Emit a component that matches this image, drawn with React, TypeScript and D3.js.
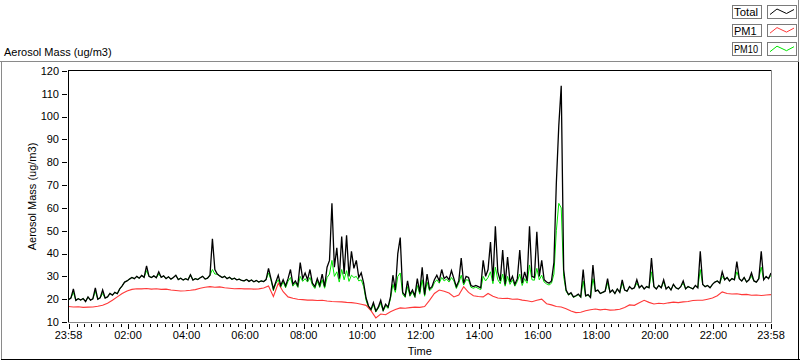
import React from 'react';
import * as d3 from 'd3';

// Minutes after the 23:58 start; Total and PM10 sampled every 5 min, PM1 every 10 min
const TOTAL_STEP_MIN = 5;
const PM10_STEP_MIN = 5;
const PM1_STEP_MIN = 10;

const TOTAL = [
  19.8, 20.5, 24.5, 19.5, 20.2, 19.6, 20.3, 19.0, 21.0, 19.6, 20.2, 25.0,
  20.0, 20.6, 24.0, 20.5, 21.0, 22.5, 21.8, 23.0, 22.4, 24.5, 25.8, 27.5,
  28.0, 28.8, 29.5, 29.0, 30.0, 29.2, 30.4, 29.6, 34.6, 30.0, 29.5, 30.2,
  29.4, 32.0, 29.6, 30.2, 29.0, 29.8, 28.8, 29.5, 30.5, 28.6, 29.2, 28.4,
  29.0, 28.5, 30.7, 28.4, 29.0, 28.6, 29.4, 30.0, 28.8, 29.2, 30.5, 46.5,
  33.0, 31.0, 30.2, 29.5, 30.0, 29.0, 29.6, 28.7, 29.2, 28.5, 28.8, 28.2,
  28.0, 28.6, 27.8, 28.4, 27.6, 28.2, 27.5, 28.0, 27.7, 28.6, 33.5, 29.0,
  24.5, 27.5, 30.5, 26.0, 28.5, 25.8, 29.0, 33.0, 26.5, 28.0, 26.0, 36.0,
  29.0, 31.5, 28.5, 33.0, 27.0, 25.5, 29.0, 26.0, 31.0, 25.5, 34.0, 37.0,
  62.0, 34.0, 42.5, 29.0, 47.5, 31.0, 48.0, 30.0, 41.0, 33.5, 37.0, 29.5,
  31.5, 27.0, 20.5, 17.0, 15.5, 18.5, 14.8, 16.5, 19.5, 15.2, 17.8, 16.5,
  21.0, 30.5, 24.0, 40.0, 47.0, 23.0, 21.5, 28.0, 22.0, 24.0, 21.5, 29.0,
  23.0, 34.0, 22.0, 31.0, 24.5, 25.5, 28.5, 30.5, 28.0, 33.0, 29.0, 30.0,
  28.5, 32.5, 29.0, 25.5, 28.0, 38.0, 27.0, 30.0, 29.5, 26.0, 25.5, 26.0,
  25.5, 25.0, 37.0, 30.0, 33.0, 45.0, 28.0, 52.0, 32.0, 28.0, 41.5, 26.5,
  38.5, 27.5, 30.0, 26.5, 29.0, 41.5, 27.0, 32.0, 28.0, 52.0, 30.0, 29.5,
  49.5, 30.0, 37.0, 28.5, 27.5, 27.0, 28.0, 36.0, 71.0, 96.0, 113.5, 33.0,
  24.0, 22.0, 22.8, 21.0, 21.5, 22.2, 21.0, 33.0, 21.5, 22.0, 20.8, 35.0,
  23.5, 24.0, 22.5, 23.0, 23.5, 29.0, 23.0, 24.0, 22.5, 24.5, 23.0, 28.5,
  24.0, 23.5, 25.5, 24.5, 25.0, 28.5, 25.0, 26.0, 24.5, 25.5, 25.0, 38.0,
  25.5, 24.5, 26.0, 25.0, 28.5, 24.5, 25.5, 24.0, 26.5, 25.0, 24.5, 25.5,
  28.0, 24.5, 25.5, 25.0, 24.5, 26.0, 25.0, 41.0, 26.5, 25.5, 26.0, 25.0,
  26.5, 27.5, 28.0, 27.0, 32.0, 28.5, 29.5, 28.0, 29.0, 28.5, 36.5, 29.0,
  28.0, 29.5, 27.5, 28.5, 31.5, 28.0, 27.5, 29.0, 41.0, 28.5, 30.0, 29.0,
  31.5,
];

const PM10 = [
  19.8, 20.5, 23.0, 19.5, 20.2, 19.6, 20.3, 19.0, 21.0, 19.6, 20.2, 23.5,
  20.0, 20.6, 22.5, 20.5, 21.0, 22.5, 21.8, 23.0, 22.4, 24.5, 25.8, 27.5,
  28.0, 28.8, 29.5, 29.0, 30.0, 29.2, 30.4, 29.6, 32.5, 30.0, 29.5, 30.2,
  29.4, 31.0, 29.6, 30.2, 29.0, 29.8, 28.8, 29.5, 30.5, 28.6, 29.2, 28.4,
  29.0, 28.5, 30.7, 28.4, 29.0, 28.6, 29.4, 30.0, 28.8, 29.2, 30.5, 33.0,
  31.0, 31.0, 30.2, 29.5, 30.0, 29.0, 29.6, 28.7, 29.2, 28.5, 28.8, 28.2,
  28.0, 28.6, 27.8, 28.4, 27.6, 28.2, 27.5, 28.0, 27.7, 28.6, 31.5, 28.5,
  23.8, 26.8, 28.5, 25.2, 27.6, 25.0, 27.8, 29.5, 25.7, 27.2, 25.2, 30.0,
  27.8, 29.0, 27.5, 29.5, 26.2, 24.7, 27.8, 25.2, 28.5, 24.8, 29.5, 31.0,
  37.0, 30.0, 32.0, 27.5, 33.0, 28.5, 32.5, 27.8, 30.5, 29.5, 30.0, 28.0,
  28.5, 25.5, 19.5, 16.4, 15.0, 17.6, 14.4, 16.0, 18.2, 14.8, 17.0, 16.0,
  20.2, 26.5, 23.0, 30.0, 31.5, 22.2, 20.8, 25.5, 21.3, 23.2, 20.8, 26.0,
  22.2, 28.5, 21.3, 27.5, 23.7, 24.7, 27.2, 28.5, 27.0, 29.5, 28.0, 28.8,
  27.5, 29.5, 28.0, 24.7, 27.0, 30.5, 26.2, 28.5, 28.3, 25.2, 24.8, 25.3,
  24.7, 24.2, 30.0, 28.0, 29.5, 32.0, 26.8, 34.0, 28.5, 26.8, 31.0, 25.7,
  30.0, 26.5, 28.5, 25.7, 27.8, 31.0, 26.0, 29.0, 27.0, 35.0, 28.5, 28.3,
  33.5, 28.5, 30.5, 27.5, 26.7, 26.2, 27.0, 31.0, 50.0, 62.0, 60.0, 30.0,
  23.5, 21.8, 22.5, 20.8, 21.3, 22.0, 20.8, 28.0, 21.3, 21.8, 20.6, 29.0,
  23.5, 24.0, 22.5, 23.0, 23.5, 27.0, 23.0, 24.0, 22.5, 24.5, 23.0, 27.0,
  24.0, 23.5, 25.5, 24.5, 25.0, 27.0, 25.0, 26.0, 24.5, 25.5, 25.0, 32.0,
  25.5, 24.5, 26.0, 25.0, 27.5, 24.5, 25.5, 24.0, 26.5, 25.0, 24.5, 25.5,
  27.0, 24.5, 25.5, 25.0, 24.5, 26.0, 25.0, 33.0, 26.5, 25.5, 26.0, 25.0,
  26.5, 27.5, 28.0, 27.0, 30.0, 28.5, 29.5, 28.0, 29.0, 28.5, 32.0, 29.0,
  28.0, 29.5, 27.5, 28.5, 30.0, 28.0, 27.5, 29.0, 34.0, 28.5, 30.0, 29.0,
  30.5,
];

const PM1 = [
  16.8, 16.6, 16.7, 16.4, 16.5, 16.6, 16.9, 17.3, 18.2, 19.5,
  21.0, 22.5, 23.6, 24.3, 24.6, 24.5, 24.7, 24.4, 24.6, 24.3,
  24.4, 24.0, 23.8, 23.6, 23.7, 23.9, 24.2, 24.8, 25.2, 25.5,
  25.2, 25.4, 25.0, 24.8, 24.6, 24.7, 24.5, 24.6, 24.4, 24.5,
  24.9, 25.8, 21.2, 27.0, 23.3, 21.0, 20.4, 20.0, 19.8, 19.6,
  19.6, 19.4, 19.5, 19.2, 19.0, 18.9, 18.8, 18.6, 18.5, 18.2,
  17.8, 17.3, 15.0, 11.8, 13.5, 13.2, 14.5, 15.5, 16.2, 16.0,
  16.3, 16.5, 16.4, 16.8, 19.5, 22.5, 24.0, 23.5, 22.7, 21.0,
  21.8, 25.5, 23.0, 21.5, 21.2, 21.0, 22.5, 21.3, 20.5, 20.3,
  20.4, 20.0, 20.1, 19.6, 19.3, 18.9, 19.5, 20.0, 18.0, 17.5,
  16.8, 16.6, 15.8, 14.8, 14.1, 14.3, 14.9, 15.4, 15.7, 15.3,
  15.6, 15.2, 15.3, 15.6, 16.4, 17.5, 17.3, 18.4, 19.5, 18.6,
  17.9, 18.2, 18.0, 18.4, 18.7, 18.5, 18.8, 19.0, 19.4, 19.5,
  19.5, 20.0, 20.5, 21.5, 23.2, 22.5, 22.3, 22.4, 22.0, 22.1,
  21.7, 21.8, 21.6, 21.8, 22.0,
];

const SERIES_NAMES = ['Total', 'PM1', 'PM10'];
const SERIES_COLORS = ['#000000', '#ff3838', '#00e600'];

const X_TICK_MINUTES = [0, 122, 242, 362, 482, 602, 722, 842, 962, 1082, 1202, 1322, 1440];
const X_TICK_LABELS = ['23:58', '02:00', '04:00', '06:00', '08:00', '10:00', '12:00', '14:00', '16:00', '18:00', '20:00', '22:00', '23:58'];
const Y_TICKS = [10, 20, 30, 40, 50, 60, 70, 80, 90, 100, 110, 120];

const Y_TITLE = 'Aerosol Mass (ug/m3)';
const X_TITLE = 'Time';

const FONT = '"Liberation Sans", Arial, sans-serif';

export default function App() {
  const W = 800;
  const H = 361;
  const left = 68.5;
  const right = 771;
  const top = 71;
  const bottom = 322;

  const x = d3.scaleLinear().domain([0, 1440]).range([left, right]);
  const y = d3.scaleLinear().domain([10, 120]).range([bottom, top]);

  const mkLine = (step: number) =>
    d3
      .line<number>()
      .x((_, i) => x(i * step))
      .y((d) => y(d));

  const minorTicks = d3.range(2, 1440, 15).filter((m) => !X_TICK_MINUTES.includes(m));

  const legendRows = SERIES_NAMES.map((name, i) => ({ name, color: SERIES_COLORS[i], top: 5 + i * 18.6 }));

  return (
    <svg
      width={W}
      height={H}
      style={{ position: 'fixed', left: 0, top: 0, background: '#fff' }}
      fontFamily={FONT}
      fontSize={11}
    >
      <rect x={0} y={0} width={W} height={H} fill="#fff" />
      {/* outer panel frame */}
      <line x1={0} x2={799} y1={61.5} y2={61.5} stroke="#8a8a8a" shapeRendering="crispEdges" />
      <line x1={1.5} x2={1.5} y1={61.5} y2={359} stroke="#8a8a8a" shapeRendering="crispEdges" />
      <line x1={798.5} x2={798.5} y1={0} y2={61.5} stroke="#8a8a8a" shapeRendering="crispEdges" />
      <line x1={798.5} x2={798.5} y1={61.5} y2={360} stroke="#000" shapeRendering="crispEdges" />
      <line x1={1} x2={800} y1={359.5} y2={359.5} stroke="#000" shapeRendering="crispEdges" />

      {/* legend */}
      {legendRows.map((r) => (
        <g key={r.name}>
          <rect x={732.5} y={r.top + 0.5} width={29} height={12.5} fill="#fff" stroke="#7a7a7a" shapeRendering="crispEdges" />
          <text x={734} y={r.top + 11} textLength={r.name.length > 4 || r.name === 'PM10' ? 24 : undefined} lengthAdjust="spacingAndGlyphs">{r.name}</text>
          <rect x={767.5} y={r.top + 0.5} width={29} height={12.5} fill="#fff" stroke="#7a7a7a" shapeRendering="crispEdges" />
          <polyline
            points={`770,${r.top + 9.5} 777,${r.top + 4} 786.5,${r.top + 8.5} 794,${r.top + 4.5}`}
            fill="none"
            stroke={r.color}
            strokeWidth={1}
          />
        </g>
      ))}

      {/* top-left title */}
      <text x={4} y={56}>{Y_TITLE}</text>

      {/* plot */}
      <defs>
        <clipPath id="plotclip">
          <rect x={68} y={70} width={704} height={253} />
        </clipPath>
      </defs>
      <rect x={68} y={70} width={704} height={252.5} fill="#fff" />
      <g clipPath="url(#plotclip)">
        <path d={mkLine(PM10_STEP_MIN)(PM10) || ''} fill="none" stroke={SERIES_COLORS[2]} strokeWidth={1} />
        <path d={mkLine(PM1_STEP_MIN)(PM1) || ''} fill="none" stroke={SERIES_COLORS[1]} strokeWidth={1.1} />
        <path d={mkLine(TOTAL_STEP_MIN)(TOTAL) || ''} fill="none" stroke={SERIES_COLORS[0]} strokeWidth={1.3} />
      </g>

      {/* plot frame */}
      <line x1={68} x2={772} y1={70.5} y2={70.5} stroke="#000" shapeRendering="crispEdges" />
      <line x1={68.5} x2={68.5} y1={70} y2={323} stroke="#000" shapeRendering="crispEdges" />
      <line x1={771.5} x2={771.5} y1={70} y2={323} stroke="#8a8a8a" shapeRendering="crispEdges" />
      <line x1={68} x2={772} y1={322.5} y2={322.5} stroke="#8a8a8a" shapeRendering="crispEdges" />

      {/* y axis */}
      {Y_TICKS.map((t) => (
        <g key={t}>
          <line x1={62} x2={67} y1={Math.round(y(t)) + 0.5} y2={Math.round(y(t)) + 0.5} stroke="#000" shapeRendering="crispEdges" />
          <text x={59} y={y(t)} dy="0.35em" textAnchor="end">{t}</text>
        </g>
      ))}
      <text transform="translate(36,196.5) rotate(-90)" textAnchor="middle">{Y_TITLE}</text>

      {/* x axis */}
      {minorTicks.map((m) => (
        <line key={m} x1={Math.round(x(m)) + 0.5} x2={Math.round(x(m)) + 0.5} y1={324} y2={327} stroke="#000" shapeRendering="crispEdges" />
      ))}
      {X_TICK_MINUTES.map((m, i) => (
        <g key={i}>
          <line x1={Math.round(x(m)) + 0.5} x2={Math.round(x(m)) + 0.5} y1={324} y2={329} stroke="#000" shapeRendering="crispEdges" />
          <text x={x(m)} y={339} textAnchor="middle">{X_TICK_LABELS[i]}</text>
        </g>
      ))}
      <text x={(left + right) / 2} y={355} textAnchor="middle">{X_TITLE}</text>
    </svg>
  );
}
